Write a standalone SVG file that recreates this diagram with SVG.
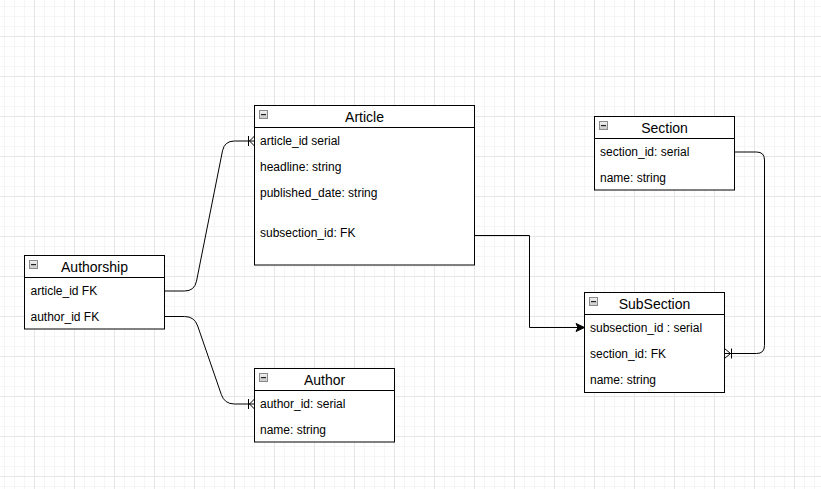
<svg xmlns="http://www.w3.org/2000/svg" width="821" height="489" viewBox="0 0 821 489">
  <defs>
    <pattern id="grid" x="34" y="36" width="40" height="40" patternUnits="userSpaceOnUse">
      <rect x="10" y="0" width="1" height="40" fill="#f5f5f5"/>
      <rect x="20" y="0" width="1" height="40" fill="#f5f5f5"/>
      <rect x="30" y="0" width="1" height="40" fill="#f5f5f5"/>
      <rect x="0" y="10" width="40" height="1" fill="#f5f5f5"/>
      <rect x="0" y="20" width="40" height="1" fill="#f5f5f5"/>
      <rect x="0" y="30" width="40" height="1" fill="#f5f5f5"/>
      <rect x="0" y="0" width="1" height="40" fill="#e6e6e6"/>
      <rect x="0" y="0" width="40" height="1" fill="#e6e6e6"/>
    </pattern>
    <linearGradient id="iconFill" x1="0" y1="0" x2="0" y2="1">
      <stop offset="0" stop-color="#f2f2f2"/>
      <stop offset="1" stop-color="#c8c8c8"/>
    </linearGradient>
    <g id="icon">
      <rect x="0.5" y="0.5" width="8" height="8" fill="url(#iconFill)" stroke="#8a8a8a" stroke-width="1"/>
      <rect x="2" y="4" width="5" height="1.2" fill="#222"/>
    </g>
  </defs>
  <style>
    .box { fill: #ffffff; stroke: #000000; stroke-width: 1; }
    .sep { stroke: #000000; stroke-width: 1; }
    .title { font-family: "Liberation Sans", Arial, Helvetica, sans-serif; font-size: 14px; fill: #000; text-anchor: middle; }
    .row { font-family: "Liberation Sans", Arial, Helvetica, sans-serif; font-size: 12px; fill: #000; }
    .edge { fill: none; stroke: #000000; stroke-width: 1; }
    .head { fill: #000000; stroke: #000000; stroke-width: 1; }
  </style>

  <rect x="0" y="0" width="821" height="489" fill="#ffffff"/>
  <rect x="0" y="0" width="821" height="489" fill="url(#grid)"/>

  <g id="connectors">
    <!-- Authorship.article_id -> Article.article_id -->
    <path class="edge" d="M164.5,291 H184.5 Q194.5,291 196.5,281.2 L222.5,150.8 Q224.5,141 234.5,141 H254.5"/>
    <path class="edge" d="M248.5,136 V146 M249.5,141 L254.5,136 M249.5,141 L254.5,146"/>
    <!-- Authorship.author_id -> Author.author_id -->
    <path class="edge" d="M164.5,316.5 H184.5 Q194.5,316.5 197.7,326 L221.3,394.5 Q224.5,404 234.5,404 H254.5"/>
    <path class="edge" d="M248.5,399 V409 M249.5,404 L254.5,399 M249.5,404 L254.5,409"/>
    <!-- Article.subsection_id -> SubSection.subsection_id -->
    <path class="edge" d="M474.5,235.5 H529.5 V327.5 H578"/>
    <path class="head" d="M584.5,327.5 L576,323.5 L578,327.5 L576,331.5 Z"/>
    <!-- Section.section_id -> SubSection.section_id -->
    <path class="edge" d="M734.5,152 H756.5 Q764.5,152 764.5,160 V345.5 Q764.5,353.5 756.5,353.5 H724.5"/>
    <path class="edge" d="M731.5,348.5 V358.5 M730.5,353.5 L724.5,348.5 M730.5,353.5 L724.5,358.5"/>
  </g>

  <g id="article">
    <rect class="box" x="254.5" y="105.5" width="220" height="159.5"/>
    <line class="sep" x1="254.5" y1="127.5" x2="474.5" y2="127.5"/>
    <use href="#icon" x="259" y="110"/>
    <text class="title" x="364.5" y="122">Article</text>
    <text class="row" x="260" y="145">article_id serial</text>
    <text class="row" x="260" y="171">headline: string</text>
    <text class="row" x="260" y="197">published_date: string</text>
    <text class="row" x="260" y="237">subsection_id: FK</text>
  </g>

  <g id="authorship">
    <rect class="box" x="24.5" y="255.5" width="140" height="73.5"/>
    <line class="sep" x1="24.5" y1="277.5" x2="164.5" y2="277.5"/>
    <use href="#icon" x="29" y="260"/>
    <text class="title" x="94.5" y="272">Authorship</text>
    <text class="row" x="30.5" y="295">article_id FK</text>
    <text class="row" x="30.5" y="321">author_id FK</text>
  </g>

  <g id="author">
    <rect class="box" x="254.5" y="368.5" width="140" height="73.5"/>
    <line class="sep" x1="254.5" y1="390.5" x2="394.5" y2="390.5"/>
    <use href="#icon" x="259" y="373"/>
    <text class="title" x="324.5" y="385">Author</text>
    <text class="row" x="260" y="408">author_id: serial</text>
    <text class="row" x="260" y="434">name: string</text>
  </g>

  <g id="section">
    <rect class="box" x="594.5" y="116.5" width="140" height="73.5"/>
    <line class="sep" x1="594.5" y1="138.5" x2="734.5" y2="138.5"/>
    <use href="#icon" x="599" y="121"/>
    <text class="title" x="664.5" y="133">Section</text>
    <text class="row" x="600" y="156">section_id: serial</text>
    <text class="row" x="600" y="182">name: string</text>
  </g>

  <g id="subsection">
    <rect class="box" x="584.5" y="292.5" width="140" height="100"/>
    <line class="sep" x1="584.5" y1="314.5" x2="724.5" y2="314.5"/>
    <use href="#icon" x="589" y="297"/>
    <text class="title" x="654.5" y="309">SubSection</text>
    <text class="row" x="590" y="332">subsection_id : serial</text>
    <text class="row" x="590" y="358">section_id: FK</text>
    <text class="row" x="590" y="384">name: string</text>
  </g>
</svg>
